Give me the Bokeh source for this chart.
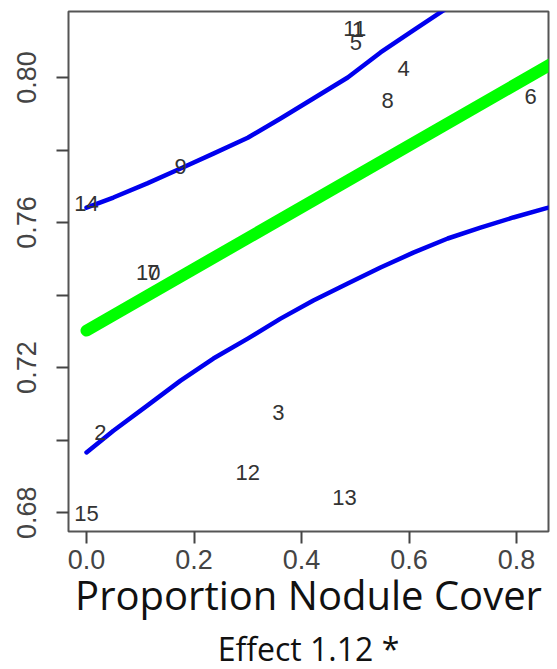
from bokeh.plotting import figure
from bokeh.models import ColumnDataSource, FixedTicker, Range1d, PrintfTickFormatter, Title
from bokeh.core.properties import value
from bokeh.embed import file_html
from bokeh.resources import INLINE

# ---- data ----
site_ids = ["1", "2", "3", "4", "5", "6", "7", "8", "9", "10", "11", "12", "13", "14", "15"]
site_x = [0.505, 0.026, 0.357, 0.590, 0.501, 0.826, 0.124, 0.560, 0.175, 0.115, 0.499, 0.300, 0.480, 0.000, 0.000]
site_y = [0.8133, 0.7021, 0.7076, 0.8025, 0.8097, 0.7948, 0.7462, 0.7937, 0.7754, 0.7462, 0.8135, 0.6910, 0.6841, 0.7652, 0.6797]

fit_x = [0.0, 0.87]
fit_y = [0.7302, 0.8042]

upper_x = [0.0, 0.050, 0.113, 0.175, 0.236, 0.300, 0.361, 0.422, 0.486, 0.547, 0.608, 0.664, 0.70]
upper_y = [0.7641, 0.7669, 0.7708, 0.7749, 0.7790, 0.7834, 0.7887, 0.7942, 0.8000, 0.8069, 0.8130, 0.8185, 0.8225]

lower_x = [0.0, 0.050, 0.113, 0.175, 0.236, 0.300, 0.361, 0.422, 0.486, 0.547, 0.608, 0.672, 0.733, 0.794, 0.854, 0.87]
lower_y = [0.6966, 0.7026, 0.7095, 0.7164, 0.7225, 0.7280, 0.7335, 0.7385, 0.7432, 0.7476, 0.7517, 0.7556, 0.7586, 0.7614, 0.7639, 0.7645]

x_ticks = [0.0, 0.2, 0.4, 0.6, 0.8]
y_ticks = [0.68, 0.70, 0.72, 0.74, 0.76, 0.78, 0.80]
y_tick_labels = ["0.68", "", "0.72", "", "0.76", "", "0.80"]

x_title = "Proportion Nodule Cover"
sub_title = "Effect 1.12 *"

W, H = 557, 669

p = figure(width=W, height=H, output_backend="svg", toolbar_location=None,
           x_range=Range1d(-0.0335, 0.8595), y_range=Range1d(0.6748, 0.8182),
           min_border_left=68, min_border_right=9, min_border_top=11, min_border_bottom=137)
p.grid.visible = False
p.background_fill_color = "white"
p.border_fill_color = "white"
p.outline_line_color = "#555555"
p.outline_line_width = 2

# lines
p.line(upper_x, upper_y, line_color="#0000ee", line_width=4.5, line_cap="round", line_join="round")
p.line(lower_x, lower_y, line_color="#0000ee", line_width=4.5, line_cap="round", line_join="round")
p.line(fit_x, fit_y, line_color="#00ff00", line_width=12, line_cap="round")

# site labels
src = ColumnDataSource(dict(x=site_x, y=site_y, t=site_ids))
p.text(x="x", y="y", text="t", source=src, text_align="center", text_baseline="middle",
       text_font=value("Liberation Sans"), text_font_size="22px", text_color="#333333")

# axes
for ax in (p.xaxis[0], p.yaxis[0]):
    ax.axis_line_color = None
    ax.major_tick_line_color = "#444444"
    ax.major_tick_line_width = 2
    ax.major_tick_out = 12
    ax.major_tick_in = 0
    ax.minor_tick_line_color = None
    ax.major_label_text_font = "Liberation Sans"
    ax.major_label_text_font_size = "27px"
    ax.major_label_text_color = "#444444"

p.xaxis.ticker = FixedTicker(ticks=x_ticks)
p.xaxis.formatter = PrintfTickFormatter(format="%.1f")
p.xaxis.major_label_standoff = 6
p.xaxis.axis_label = x_title
p.xaxis.axis_label_text_font = "Open Sans"
p.xaxis.axis_label_text_font_size = "40px"
p.xaxis.axis_label_text_font_style = "normal"
p.xaxis.axis_label_text_color = "#111111"
p.xaxis.axis_label_standoff = -5

p.yaxis.ticker = FixedTicker(ticks=y_ticks)
p.yaxis.major_label_overrides = {t: l for t, l in zip(y_ticks, y_tick_labels)}
p.yaxis.major_label_orientation = "vertical"
p.yaxis.major_label_standoff = 20

p.add_layout(Title(text=sub_title, align="center", text_font="Open Sans", text_font_size="32px",
                   text_font_style="normal", text_color="#111111", standoff=0, offset=0), "below")

open("out.html", "w").write(file_html(p, INLINE))
